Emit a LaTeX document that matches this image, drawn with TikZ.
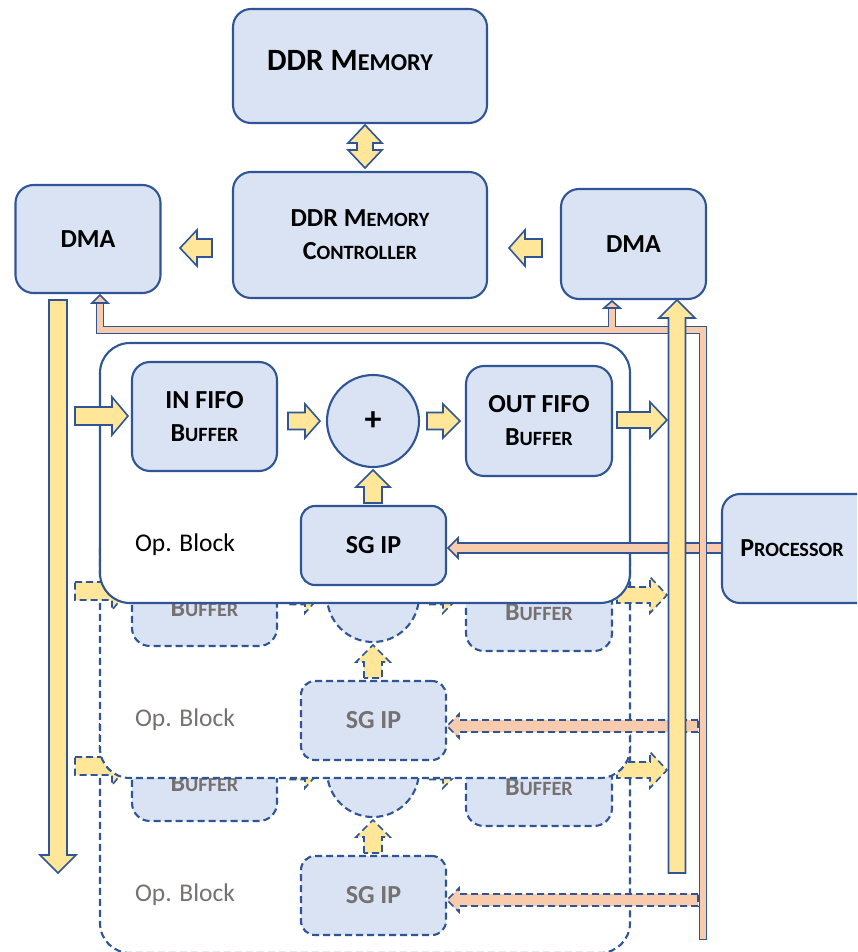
\documentclass[tikz,border=0pt]{standalone}
\usepackage{fontspec}
\setmainfont{Carlito}
\usepackage{graphicx}

\definecolor{boxfill}{HTML}{DAE3F3}
\definecolor{boxline}{HTML}{2F5597}
\definecolor{busyellow}{HTML}{FFE699}
\definecolor{ctrlorange}{HTML}{F8CBAD}
\definecolor{ghost}{HTML}{767171}

% capital followed by reduced capitals
\newcommand\smallcap[2]{#1\scalebox{0.78}{#2}}

% horizontal block arrow: style, tail x, head-base x, tip x, centre y, shaft half, head half
\newcommand\harrow[7][]{%
  \draw[#1] ({#2},{#5-#6}) -- ({#3},{#5-#6}) -- ({#3},{#5-#7}) -- ({#4},{#5})
    -- ({#3},{#5+#7}) -- ({#3},{#5+#6}) -- ({#2},{#5+#6}) -- cycle;}
% vertical block arrow: style, tail y, head-base y, tip y, centre x, shaft half, head half
\newcommand\varrow[7][]{%
  \draw[#1] ({#5-#6},{#2}) -- ({#5-#6},{#3}) -- ({#5-#7},{#3}) -- ({#5},{#4})
    -- ({#5+#7},{#3}) -- ({#5+#6},{#3}) -- ({#5+#6},{#2}) -- cycle;}

% one operation block: vertical offset, outline style, text colour
\newcommand\opblock[3]{%
\begin{scope}[shift={(0,#1)}, every node/.append style={text=#3}]
  \node[frame,#2,minimum width=530pt,minimum height=260pt] (blk#1) at (365,473) {};
  \harrow[yarrow,#2]{75}{112}{128}{416}{9}{19}
  \harrow[yarrow,#2]{288}{305}{320}{421}{8.5}{17}
  \harrow[yarrow,#2]{427}{443}{460}{421}{8.5}{17}
  \harrow[yarrow,#2]{617}{650}{667}{420}{8}{18}
  \varrow[yarrow,#2]{503}{487}{470}{373}{9}{17}
  \node[box,#2,minimum width=145pt,minimum height=109pt] (fin#1) at (204.5,416.5)
    {IN FIFO\\\smallcap{B}{UFFER}};
  \node[box,#2,circle,minimum size=92pt,font=\bfseries\fontsize{34}{36}\selectfont] (sum#1) at (373,421) {+};
  \node[box,#2,minimum width=146pt,minimum height=110pt] (fout#1) at (539,421)
    {OUT FIFO\\\smallcap{B}{UFFER}};
  \node[box,#2,rounded corners=14pt,minimum width=145pt,minimum height=79pt] (sg#1) at (373.5,545.5) {SG IP};
  \node[font=\fontsize{25.5}{30}\selectfont] (opl#1) at (185,545) {Op. Block};
\end{scope}}

\begin{document}
\begin{tikzpicture}[x=1pt,y=-1pt,
  lblfont/.style={font=\bfseries\fontsize{26}{33}\selectfont},
  box/.style={draw=boxline, fill=boxfill, line width=2.1pt, rounded corners=18pt,
    inner sep=0pt, align=center, lblfont},
  frame/.style={draw=boxline, fill=white, line width=2.1pt, rounded corners=30pt, inner sep=0pt},
  solidline/.style={},
  ghostline/.style={dash pattern=on 7pt off 4pt},
  yarrow/.style={draw=boxline, fill=busyellow, line width=1.6pt, line join=miter},
  oarrow/.style={draw=boxline, fill=ctrlorange, line width=1.6pt, line join=miter}]
\useasboundingbox (0,0) rectangle (857,952);
\clip (0,0) rectangle (857,952);

% stacked operation blocks, back to front
\opblock{350}{ghostline}{ghost}
\opblock{175}{ghostline}{ghost}
\opblock{0}{solidline}{black}

% memory side
\node[box,minimum width=254pt,minimum height=114pt] (mem) at (360,66) {};
\node[font=\bfseries\fontsize{31}{34}\selectfont] (memtxt) at (350,61) {DDR \smallcap{M}{EMORY}};
\node[box,minimum width=254pt,minimum height=126pt] (ctrl) at (360,235)
  {DDR \smallcap{M}{EMORY}\\\smallcap{C}{ONTROLLER}};
\node[box,minimum width=145pt,minimum height=108pt] (dmaL) at (88,239) {DMA};
\node[box,minimum width=145pt,minimum height=110pt] (dmaR) at (633.5,244) {DMA};
\node[box,minimum width=160pt,minimum height=109pt] (proc) at (802,548.5) {};
\node[lblfont] (proctxt) at (792,548) {\smallcap{P}{ROCESSOR}};

% memory <-> controller
\draw[yarrow] (365,125) -- (382,143) -- (373,143) -- (373,150) -- (382,150) -- (365,168)
  -- (348,150) -- (357,150) -- (357,143) -- (348,143) -- cycle;
% controller -> left DMA, right DMA -> controller
\harrow[yarrow]{212}{197}{180}{248}{9}{18}
\harrow[yarrow]{542}{525}{509}{248}{9}{18}

% processor -> SG IP control arrows
\harrow[oarrow]{722}{458}{448}{548}{5}{10}
\harrow[oarrow,ghostline]{698}{459}{447}{726}{6}{12}
\harrow[oarrow,ghostline]{698}{459}{447}{900}{6}{12}

% control bus to both DMAs
\draw[boxline,line width=8.4pt,line join=miter] (703,940) -- (703,330) -- (100,330) -- (100,303);
\draw[boxline,line width=8.4pt] (612,330) -- (612,308);
\draw[oarrow] (92,303) -- (100,295) -- (108,303) -- cycle;
\draw[oarrow] (604,308) -- (612,301) -- (620,308) -- cycle;
\draw[ctrlorange,line width=5.2pt,line join=miter] (703,938.6) -- (703,330) -- (100,330) -- (100,303.8);
\draw[ctrlorange,line width=5.2pt] (612,330) -- (612,308.8);

% data buses
\varrow[yarrow]{300}{855}{873}{58}{9}{18}
\varrow[yarrow]{873}{318}{300}{677}{8.5}{18}
\end{tikzpicture}
\end{document}
